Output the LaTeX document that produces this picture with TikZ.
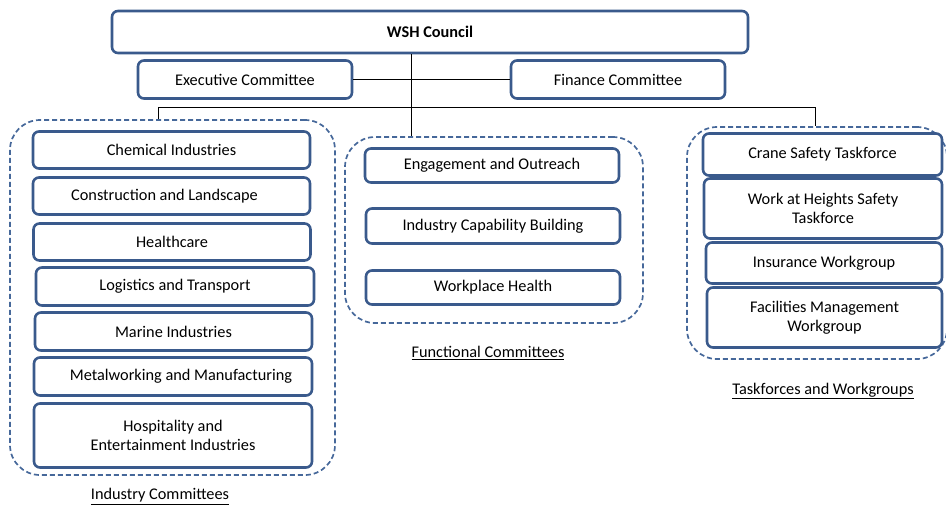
\documentclass[tikz,border=0pt]{standalone}
\usepackage{fontspec}
\setmainfont{Carlito}
\definecolor{boxblue}{RGB}{58,90,140}
\definecolor{dashblue}{RGB}{70,104,154}
\begin{document}
\begin{tikzpicture}[x=1pt,y=-1pt,
    font=\fontsize{16.3}{19.5}\selectfont,
    box/.style={draw=boxblue,line width=2.6pt,rounded corners=6pt,fill=white,align=center,inner sep=0pt},
    group/.style={draw=dashblue,line width=1.7pt,dash pattern=on 5pt off 3pt,rounded corners=30pt,inner sep=0pt},
    caption/.style={inner sep=0pt}]
  \useasboundingbox (0,0) rectangle (946,506);

  % containers
  \node[group,minimum width=325pt,minimum height=355pt] (ind) at (172.5,297.5) {};
  \node[group,minimum width=298pt,minimum height=186pt] (func) at (494,230) {};
  \node[group,minimum width=260pt,minimum height=232pt] (tf) at (817,243) {};

  % top
  \node[box,minimum width=636pt,minimum height=42pt] (wsh) at (430,32) {\textbf{WSH Council}};
  \node[box,minimum width=214pt,minimum height=38pt] (exec) at (245,79.5) {Executive Committee};
  \node[box,minimum width=214pt,minimum height=38pt] (fin) at (618,79.5) {Finance Committee};

  % industry committees
  \node[box,minimum width=277pt,minimum height=37pt] (chem) at (171.5,150) {Chemical Industries};
  \node[box,minimum width=277pt,minimum height=37pt] (cons) at (171.5,196) {Construction and Landscape\hspace{14pt}};
  \node[box,minimum width=277pt,minimum height=37pt] (health) at (172,242) {Healthcare};
  \node[box,minimum width=278pt,minimum height=38pt] (logi) at (175,286.5) {Logistics and Transport};
  \node[box,minimum width=277pt,minimum height=38pt] (marine) at (173.5,331.5) {Marine Industries};
  \node[box,minimum width=278pt,minimum height=38pt] (metal) at (173,376.5) {\hspace{16pt}Metalworking and Manufacturing};
  \node[box,minimum width=278pt,minimum height=64pt] (hosp) at (173,435.5) {Hospitality and\hspace{14pt}\\Entertainment Industries\hspace{12pt}};
  \node[caption] (indcap) at (160,496.5) {\underline{Industry Committees}};

  % functional committees
  \node[box,minimum width=254pt,minimum height=34pt] (engage) at (492,165.5) {Engagement and Outreach};
  \node[box,minimum width=254pt,minimum height=35pt] (capab) at (493,226) {Industry Capability Building};
  \node[box,minimum width=254pt,minimum height=34pt] (work) at (493,287.5) {Workplace Health};
  \node[caption] (funccap) at (488,353) {\underline{Functional Committees}};

  % taskforces and workgroups
  \node[box,minimum width=239pt,minimum height=42pt] (crane) at (822.5,154.5) {Crane Safety Taskforce};
  \node[box,minimum width=238pt,minimum height=60pt] (height) at (823,208.5) {Work at Heights Safety\\Taskforce};
  \node[box,minimum width=236pt,minimum height=41pt] (insur) at (824,263) {Insurance Workgroup};
  \node[box,minimum width=235pt,minimum height=60pt] (facil) at (824.5,317.5) {Facilities Management\\Workgroup};
  \node[caption] (tfcap) at (823,391) {\underline{Taskforces and Workgroups}};

  % connectors
  \coordinate (hub) at (411,107);
  \coordinate (busL) at (158,107);
  \coordinate (busR) at (815,107);
  \draw[line width=1pt] (exec) -- (fin);
  \draw[line width=1pt] (wsh.south -| hub) -- (func.north -| hub);
  \draw[line width=1pt] (ind.north -| busL) -- (busL) -- (busR) -- (tf.north -| busR);
\end{tikzpicture}
\end{document}
